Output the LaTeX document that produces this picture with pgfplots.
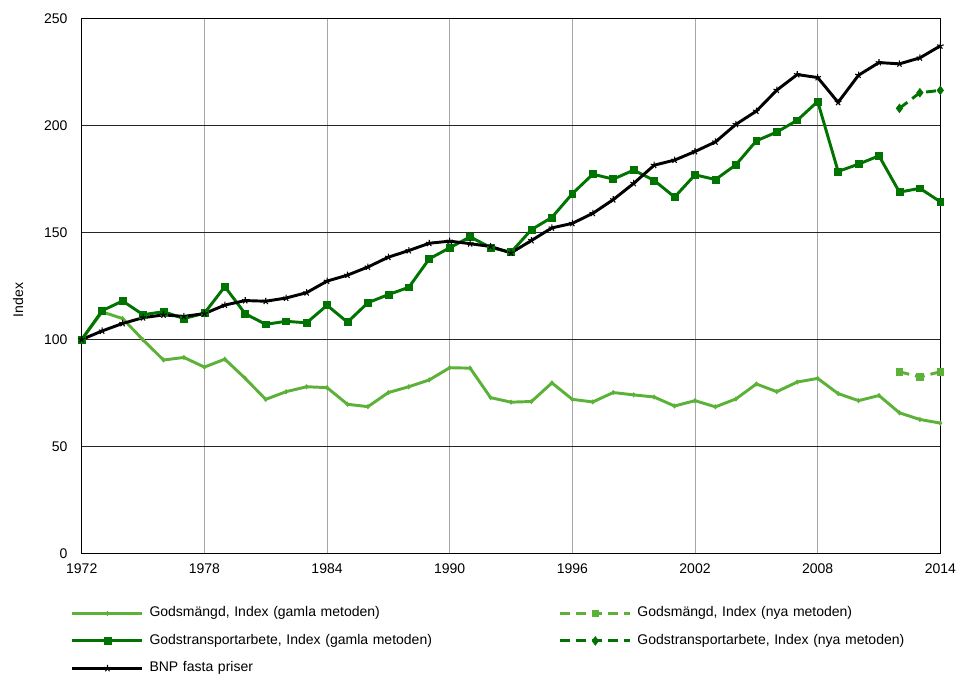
\documentclass[border=0pt]{standalone}
\usepackage{fontspec}
\setmainfont{Liberation Sans}
\usepackage{pgfplots}
\pgfplotsset{compat=1.18}
\definecolor{lgreen}{RGB}{92,178,56}
\definecolor{dgreen}{RGB}{0,115,0}
\begin{document}
\fontsize{10.5pt}{12pt}\selectfont
\begin{tikzpicture}
\useasboundingbox (0,0) rectangle (717.75pt,-507.75pt);
\begin{axis}[
  at={(61.3pt,-415pt)}, anchor=south west,
  scale only axis, width=643.95pt, height=400.95pt,
  xmin=1972, xmax=2014, ymin=0, ymax=250,
  xtick={1972,1978,...,2014}, ytick={0,50,...,250},
  major tick length=0pt,
  xmajorgrids, ymajorgrids,
  major x grid style={gray!70, line width=0.75pt},
  major y grid style={black!85, line width=0.6pt},
  axis line style={black, line width=0.75pt},
  /pgf/number format/assume math mode=true,
  /pgf/number format/1000 sep={},
  tick label style={font=\fontsize{10.5pt}{12pt}\selectfont, inner sep=0pt},
  xticklabel style={yshift=-7.3pt, anchor=north},
  yticklabel style={xshift=-10.5pt, anchor=east},
  ylabel={Index},
  ylabel style={at={(axis description cs:-0.0742,0.474)}, anchor=center, font=\fontsize{10.5pt}{12pt}\selectfont, inner sep=0pt},
  legend columns=2,
  legend cell align=left,
  legend style={
    at={(axis description cs:-0.0125,-0.1)}, anchor=north west,
    draw=none, inner sep=0pt, outer sep=0pt,
    font=\fontsize{10.5pt}{12pt}\selectfont,
    nodes={inner sep=0pt, text height=7.5pt, text depth=2.5pt, text width=300pt},
    row sep=10.6pt,
    /tikz/every odd column/.append style={column sep=4.2pt},
    /tikz/every even column/.append style={column sep=7pt},
  },
  legend image code/.code={\draw[mark repeat=2,mark phase=2,#1] plot coordinates {(0pt,0pt) (26.25pt,0pt) (52.5pt,0pt)};},
  every axis plot/.append style={line width=2.2pt},
]
% Godsmängd, gamla metoden
\addplot[color=lgreen, mark=diamond*, mark size=1.6pt, mark options={solid, line width=0.5pt}] coordinates {
(1972,100) (1973,112.9) (1974,109.8) (1975,99.8) (1976,90.4) (1977,91.6) (1978,87.1) (1979,90.8) (1980,81.8) (1981,72.0) (1982,75.6) (1983,77.9) (1984,77.5) (1985,69.7) (1986,68.6) (1987,75.2) (1988,77.9) (1989,81.1) (1990,86.8) (1991,86.6) (1992,72.8) (1993,70.7) (1994,71.0) (1995,79.7) (1996,72.0) (1997,70.8) (1998,75.2) (1999,74.1) (2000,73.1) (2001,68.9) (2002,71.4) (2003,68.5) (2004,72.2) (2005,79.2) (2006,75.6) (2007,80.1) (2008,81.8) (2009,74.7) (2010,71.4) (2011,73.8) (2012,65.7) (2013,62.6) (2014,60.9)
};
\addlegendentry{Godsmängd, Index (gamla metoden)}
% Godsmängd, nya metoden
\addplot[color=lgreen, dash pattern=on 7.5pt off 4.5pt, mark=square*, mark size=2.5pt, mark options={solid, line width=0.5pt}] coordinates {
(2012,84.9) (2013,82.5) (2014,84.9)
};
\addlegendentry{Godsmängd, Index (nya metoden)}
% Godstransportarbete, gamla metoden
\addplot[color=dgreen, mark=square*, mark size=2.6pt, mark options={solid, line width=0.5pt}] coordinates {
(1972,100) (1973,113.5) (1974,118.0) (1975,111.6) (1976,113.0) (1977,109.8) (1978,112.3) (1979,124.7) (1980,112.0) (1981,107.1) (1982,108.5) (1983,107.8) (1984,116.0) (1985,108.1) (1986,117.2) (1987,121.0) (1988,124.4) (1989,137.7) (1990,142.9) (1991,148.0) (1992,143.0) (1993,140.8) (1994,151.4) (1995,157.1) (1996,168.2) (1997,177.3) (1998,175.0) (1999,179.2) (2000,174.4) (2001,166.6) (2002,177.0) (2003,174.8) (2004,181.7) (2005,192.9) (2006,197.0) (2007,202.5) (2008,211.3) (2009,178.6) (2010,182.0) (2011,185.9) (2012,168.9) (2013,170.7) (2014,164.4)
};
\addlegendentry{Godstransportarbete, Index (gamla metoden)}
% Godstransportarbete, nya metoden
\addplot[color=dgreen, dash pattern=on 7.5pt off 4.5pt, mark=diamond*, mark size=3.2pt, mark options={solid, line width=0.5pt}] coordinates {
(2012,208.1) (2013,215.4) (2014,216.5)
};
\addlegendentry{Godstransportarbete, Index (nya metoden)}
% BNP
\addplot[color=black, mark=star, mark size=2.6pt, mark options={solid, line width=0.8pt}] coordinates {
(1972,100) (1973,104.0) (1974,107.5) (1975,110.2) (1976,111.5) (1977,110.8) (1978,112.1) (1979,116.1) (1980,118.2) (1981,117.9) (1982,119.4) (1983,121.9) (1984,127.3) (1985,130.1) (1986,133.9) (1987,138.5) (1988,141.6) (1989,145.0) (1990,146.0) (1991,144.8) (1992,143.5) (1993,140.5) (1994,146.3) (1995,152.2) (1996,154.3) (1997,159.0) (1998,165.4) (1999,173.0) (2000,181.5) (2001,183.9) (2002,187.9) (2003,192.4) (2004,200.6) (2005,206.8) (2006,216.6) (2007,223.9) (2008,222.5) (2009,210.9) (2010,223.6) (2011,229.5) (2012,228.9) (2013,231.7) (2014,237.3)
};
\addlegendentry{BNP fasta priser}
\end{axis}
\end{tikzpicture}
\end{document}
